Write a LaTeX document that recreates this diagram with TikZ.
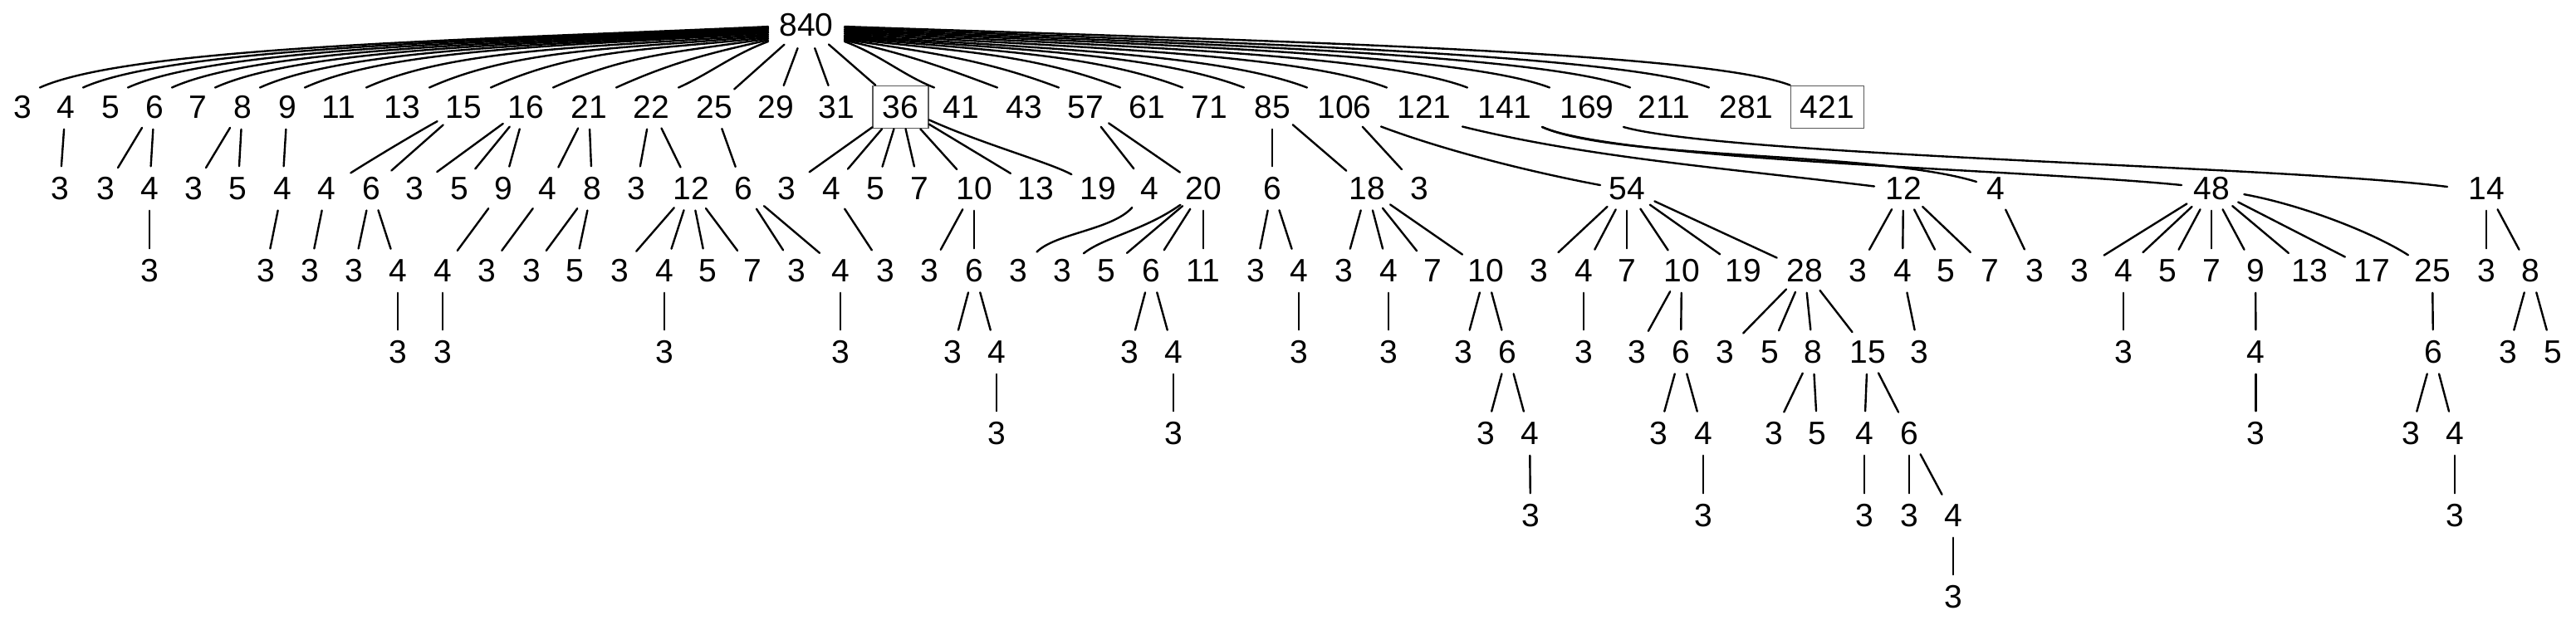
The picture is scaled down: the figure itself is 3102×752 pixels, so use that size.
\documentclass[tikz,border=0pt]{standalone}
\usepackage{fontspec}
\setmainfont{Liberation Sans}
\usetikzlibrary{calc,shapes.geometric}
\newcommand\treefont{\fontsize{9.75pt}{11pt}\selectfont}
\tikzset{
  nd/.style={ellipse, minimum width=20pt, minimum height=13pt, inner sep=0pt, font=\treefont},
  rootnd/.style={ellipse, minimum width=23pt, minimum height=14pt, inner sep=0pt, font=\treefont},
  bx/.style={rectangle, draw=black!65, line width=0.45pt, minimum height=12.75pt, inner xsep=2.875pt, inner ysep=0pt, font=\treefont},
  ed/.style={line width=0.6pt, line cap=round},
}
\begin{document}
\begin{tikzpicture}[x=0.25pt, y=-0.25pt]
\useasboundingbox (0,0) rectangle (3102,752);
% root
\node[rootnd] (r) at (971,30) {840};
% level 1
\foreach \n/\x/\t in {n3/27/3, n4/79/4, n5/133/5, n6/186/6, n7/238/7, n8/292/8, n9/346/9, n11/408/11, n13/484/13, n15/558/15, n16/633/16, n21/709/21, n22/784/22, n25/860/25, n29/934/29, n31/1007/31, n41/1157/41, n43/1233/43, n57/1307/57, n61/1381/61, n71/1456/71, n85/1532/85, n106/1619/106, n121/1715/121, n141/1812/141, n169/1911/169, n211/2004/211, n281/2103/281}
  \node[nd] (\n) at (\x,129) {\t};
\node[bx] (n36) at (1084.5,129) {36};
\node[bx] (n421) at (2200.5,129) {421};
% level 2
\foreach \n/\x/\t in {m1/72/3, m2/127/3, m3/180/4, m4/233/3, m5/286.5/5, m6/340/4, m7/393/4, m8/447/6, m9/499/3, m10/553/5, m11/606/9, m12/659.5/4, m13/713/8, m14/766/3, m15/832/12, m16/895/6, m17/947/3, m18/1001/4, m19/1054.5/5, m20/1107/7, m21/1173/10, m22/1247/13, m23/1322/19, m24/1384/4, m25/1449/20, m26/1532/6, m27/1646/18, m28/1709/3, m29/1959/54, m30/2292/12, m31/2403/4, m32/2663/48, m33/2994/14}
  \node[nd] (\n) at (\x,227) {\t};
% level 3
\foreach \n/\x/\t in {p1/180/3, p2/320/3, p3/373/3, p4/426/3, p5/479/4, p6/533/4, p7/586.5/3, p8/640/3, p9/692/5, p10/746/3, p11/800/4, p12/852/5, p13/906/7, p14/959/3, p15/1012/4, p16/1066/3, p17/1119/3, p18/1173/6, p19/1226/3, p20/1279/3, p21/1332/5, p22/1386/6, p23/1449/11, p24/1512/3, p25/1564/4, p26/1618.5/3, p27/1672/4, p28/1725/7, p29/1789/10, p30/1853/3, p31/1907/4, p32/1959/7, p33/2025/10, p34/2099/19, p35/2173/28, p36/2237/3, p37/2291/4, p38/2343/5, p39/2396/7, p40/2450/3, p41/2504/3, p42/2557/4, p43/2610/5, p44/2663/7, p45/2716/9, p46/2781/13, p47/2856/17, p48/2929/25, p49/2994/3, p50/3047/8}
  \node[nd] (\n) at (\x,326) {\t};
% level 4
\foreach \n/\x/\t in {q1/479/3, q2/533/3, q3/800/3, q4/1012/3, q5/1147/3, q6/1200/4, q7/1360/3, q8/1413/4, q9/1564/3, q10/1672/3, q11/1762.5/3, q12/1815.5/6, q13/1907/3, q14/1971/3, q15/2024/6, q16/2077/3, q17/2131/5, q18/2183/8, q19/2249/15, q20/2311/3, q21/2557/3, q22/2716.5/4, q23/2930/6, q24/3020/3, q25/3074/5}
  \node[nd] (\n) at (\x,424) {\t};
% level 5
\foreach \n/\x/\t in {s1/1200/3, s2/1413/3, s3/1789/3, s4/1842/4, s5/1997/3, s6/2051/4, s7/2136/3, s8/2188.5/5, s9/2245/4, s10/2299/6, s11/2716.5/3, s12/2903/3, s13/2956/4}
  \node[nd] (\n) at (\x,522) {\t};
% level 6
\foreach \n/\x/\t in {t1/1843/3, t2/2051/3, t3/2245/3, t4/2299/3, t5/2352/4, t6/2956/3}
  \node[nd] (\n) at (\x,621) {\t};
% level 7
\node[nd] (u1) at (2352,719) {3};

% root edges, left bundle
\foreach \c/\dx/\ys/\ca/\cb/\cc in {n3/21/32.1/-351/110/-49.5, n4/21/33.3/-330/110/-49.5, n5/21/34.5/-308/110/-49.5, n6/21/35.8/-287/110/-49.5, n7/21/37/-266/110/-49.5, n8/21/38.3/-245/110/-49.5, n9/21/39.5/-223/110/-49.5, n11/33/41.3/-194/110/-49.5, n13/33/43/-163/110/-49.5, n15/33/44.8/-134/110/-49.5, n16/33/46.5/-104/91/-41, n21/33/48.3/-73/64/-29, n22/33/50/-43/38/-17}
  \draw[ed] ($(r)+(-46,\ys-30)$) .. controls +(\ca,16) and +(\cb,\cc) .. ($(\c)+(\dx,-23.5)$);
% root edges, right bundle
\foreach \c/\dx/\ys/\ca/\cb/\cc in {n41/-32/50/43/-38/-15, n43/-32/48.7/74/-64/-24, n57/-32/47.4/103/-90/-34, n61/-32/46.1/133/-110/-42, n71/-32/44.8/163/-110/-42, n85/-34/43.5/193/-110/-42, n106/-45/42.2/223/-110/-42, n121/-45/40.5/261/-110/-42, n141/-45/38.8/300/-110/-42, n169/-45/37.1/340/-110/-42, n211/-41/35.5/377/-110/-42, n281/-45/33.7/416/-110/-42}
  \draw[ed] ($(r)+(46,\ys-30)$) .. controls +(\ca,16) and +(\cb,\cc) .. ($(\c)+(\dx,-23.5)$);
\draw[ed] ($(r)+(46,2)$) .. controls +(456,16) and +(-110,-42) .. (n421.north west);
% root edges, straight
\foreach \c in {n25,n29,n31,n36} \draw[ed] (r) -- (\c);

% straight edges below level 1
\foreach \a/\b in {n4/m1, n6/m2, n6/m3, n8/m4, n8/m5, n9/m6, n15/m8, n16/m9, n16/m10, n16/m11, n21/m12, n21/m13, n22/m14, n22/m15, n25/m16, n36/m17, n36/m18, n36/m19, n36/m20, n36/m21, n36/m22, n57/m24, n57/m25, n85/m26, n85/m27, n106/m28,
  m3/p1, m6/p2, m7/p3, m8/p4, m8/p5, m11/p6, m12/p7, m13/p8, m13/p9, m15/p10, m15/p11, m15/p12, m15/p13, m16/p14, m16/p15, m18/p16, m21/p17, m21/p18, m25/p21, m25/p22, m25/p23, m26/p24, m26/p25, m27/p26, m27/p27, m27/p28, m27/p29, m29/p30, m29/p31, m29/p32, m29/p33, m29/p34, m29/p35, m30/p36, m30/p37, m30/p38, m30/p39, m31/p40, m32/p41, m32/p42, m32/p43, m32/p44, m32/p45, m32/p46, m32/p47, m33/p49, m33/p50,
  p5/q1, p6/q2, p11/q3, p15/q4, p18/q5, p18/q6, p22/q7, p22/q8, p25/q9, p27/q10, p29/q11, p29/q12, p31/q13, p33/q14, p33/q15, p35/q16, p35/q17, p35/q18, p35/q19, p37/q20, p42/q21, p45/q22, p48/q23, p50/q24, p50/q25,
  q6/s1, q8/s2, q12/s3, q12/s4, q15/s5, q15/s6, q18/s7, q18/s8, q19/s9, q19/s10, q22/s11, q23/s12, q23/s13,
  s4/t1, s6/t2, s9/t3, s10/t4, s10/t5, s13/t6, t5/u1}
  \draw[ed] (\a) -- (\b);

% curved edges
\draw[ed] (n15) .. controls +(-55,30) and +(55,-35) .. (m7);
\draw[ed] (n36) .. controls +(100,45) and +(-60,-32) .. (m23);
\draw[ed] (m24) .. controls +(-45,50) and +(45,-45) .. (p19);
\draw[ed] (m25) .. controls +(-70,50) and +(50,-40) .. (p20);
\draw[ed] (m32) .. controls +(110,20) and +(-70,-45) .. (p48);
\draw[ed] ($(n106)+(44,23.5)$) .. controls +(80,30) and +(-80,-15) .. ($(m29)+(-32,-4)$);
\draw[ed] ($(n121)+(46,23.5)$) .. controls +(150,37) and +(-180,-22) .. ($(m30)+(-35,-2.5)$);
\draw[ed] ($(n141)+(45,24)$) .. controls +(90,40) and +(-120,-37) .. ($(m31)+(-23,-8)$);
\draw[ed] ($(n141)+(45,24)$) .. controls +(90,40) and +(-177,-18) .. ($(m32)+(-36,-4)$);
\draw[ed] ($(n169)+(44,24)$) .. controls +(125,35) and +(-197.5,-25) .. ($(m33)+(-47,-2)$);
\end{tikzpicture}
\end{document}
